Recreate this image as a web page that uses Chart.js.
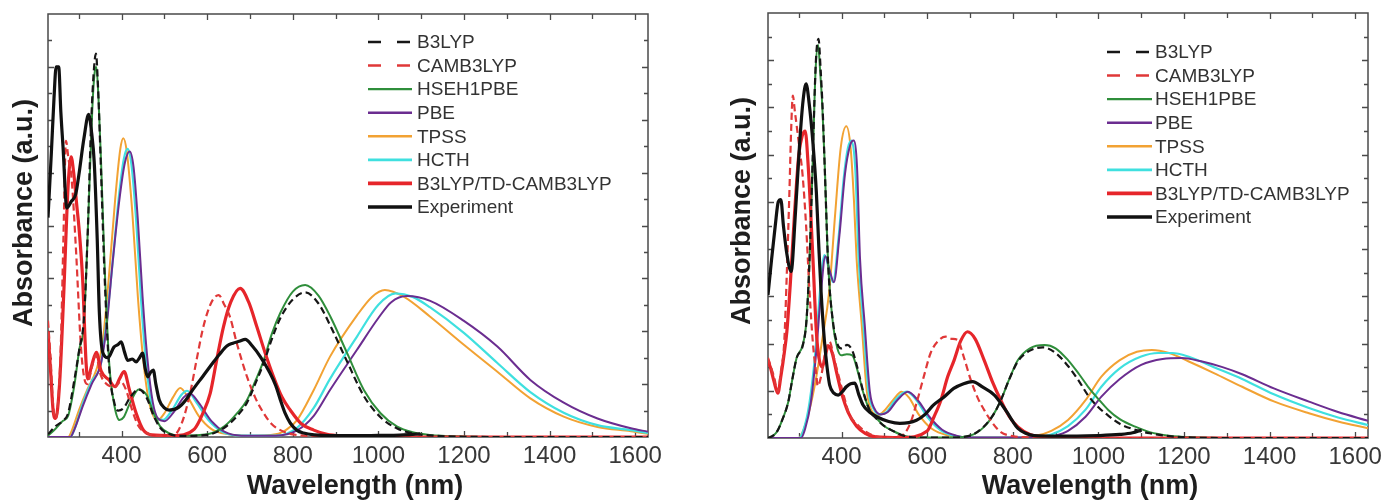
<!DOCTYPE html>
<html>
<head>
<meta charset="utf-8">
<script src="https://cdn.jsdelivr.net/npm/chart.js@4.4.1/dist/chart.umd.min.js"></script>
<style>
  html, body { margin: 0; padding: 0; background: #ffffff; }
  body { width: 1389px; height: 504px; position: relative; overflow: hidden; }
  canvas { position: absolute; top: 0; }
  #leftPanel { left: 0; width: 694px; height: 504px; }
  #rightPanel { left: 694px; width: 695px; height: 504px; }
</style>
</head>
<body>
<canvas id="leftPanel" width="694" height="504"></canvas>
<canvas id="rightPanel" width="695" height="504"></canvas>
<script>
// Series names (legend order)
const seriesNames = ['B3LYP', 'CAMB3LYP', 'HSEH1PBE', 'PBE', 'TPSS', 'HCTH', 'B3LYP/TD-CAMB3LYP', 'Experiment'];

// Axis settings
const wavelengthRange = [228, 1630];
const wavelengthTicks = [300, 400, 500, 600, 700, 800, 900, 1000, 1100, 1200, 1300, 1400, 1500, 1600];
const wavelengthTickLabels = [400, 600, 800, 1000, 1200, 1400, 1600];
const xAxisTitle = 'Wavelength (nm)';
const yAxisTitle = 'Absorbance (a.u.)';
const leftAbsMax = 16;
const rightAbsMax = 18;

// ---------- Left panel spectra: [wavelength (nm), absorbance (a.u.)] ----------
const leftB3LYP = [[228,0.1],[245,0.4],[262,0.6],[275,0.9],[290,2.2],[301,3.3],[312,4.5],[321,7.8],[328,11.5],[334,13.6],[340,14.5],[345,13.2],[352,10.0],[360,6.2],[371,2.6],[383,1.3],[392,1.0],[405,1.1],[420,1.5],[440,1.8],[458,1.5],[475,0.8],[490,0.35],[510,0.12],[540,0.04],[600,0.08],[640,0.35],[670,0.8],[693,1.3],[712,2.0],[732,2.8],[751,3.7],[771,4.5],[800,5.2],[829,5.47],[860,5.05],[888,4.2],[927,2.85],[966,1.55],[1005,0.75],[1044,0.32],[1080,0.14],[1120,0.06],[1200,0.01],[1300,0],[1630,0]];
const leftCAMB3LYP = [[228,4.4],[234,3.0],[240,1.2],[245,0.7],[250,1.0],[258,3.5],[264,7.5],[270,11.2],[276,10.5],[283,9.8],[293,7.2],[305,3.4],[313,2.2],[320,2.0],[330,2.6],[340,3.1],[350,2.4],[365,2.0],[385,1.9],[398,2.1],[410,1.8],[425,1.0],[440,0.4],[460,0.15],[480,0.05],[520,0.05],[540,0.5],[560,1.65],[575,2.9],[591,4.17],[610,5.1],[627,5.37],[640,5.0],[653,4.55],[670,3.5],[693,2.28],[712,1.5],[732,0.9],[750,0.5],[771,0.26],[800,0.1],[850,0.03],[900,0],[1630,0]];
const leftHSEH1PBE = [[228,0.05],[245,0.3],[262,0.6],[275,0.8],[290,2.0],[301,3.3],[312,4.3],[321,7.8],[327,10.5],[333,12.9],[338,13.9],[341,14.0],[346,12.8],[352,10.4],[360,6.6],[371,2.8],[383,1.2],[395,0.64],[405,0.75],[420,1.3],[440,1.8],[458,1.6],[475,0.9],[490,0.4],[510,0.15],[540,0.05],[600,0.1],[640,0.4],[670,0.9],[693,1.4],[712,2.1],[732,2.9],[751,3.9],[771,4.7],[800,5.5],[829,5.75],[860,5.35],[888,4.55],[927,3.17],[966,1.78],[1005,0.9],[1044,0.39],[1080,0.18],[1120,0.08],[1200,0.02],[1300,0],[1630,0]];
const leftPBE = [[228,0],[280,0],[290,0.3],[310,1.2],[330,2.0],[352,2.8],[365,4.2],[379,6.6],[395,9.0],[408,10.4],[419,10.8],[428,10.2],[438,8.2],[449,5.3],[460,3.0],[473,1.3],[485,0.7],[500,0.6],[520,0.9],[545,1.5],[560,1.65],[580,1.3],[610,0.6],[640,0.2],[680,0.05],[760,0.05],[810,0.25],[849,0.8],[887,1.78],[950,3.3],[1000,4.5],[1030,5.1],[1067,5.33],[1121,5.15],[1199,4.4],[1278,3.42],[1355,2.16],[1433,1.3],[1512,0.7],[1590,0.33],[1630,0.2]];
const leftTPSS = [[228,0],[275,0],[285,0.3],[300,1.0],[320,1.8],[340,2.5],[355,3.5],[370,6.0],[385,9.0],[397,10.9],[404,11.3],[412,10.8],[425,8.5],[438,5.3],[450,3.0],[462,1.5],[474,0.8],[484,0.64],[500,0.9],[520,1.5],[537,1.85],[555,1.5],[580,0.8],[610,0.3],[650,0.1],[700,0.04],[760,0.1],[787,0.3],[810,0.64],[849,1.78],[887,3.04],[950,4.6],[985,5.3],[1015,5.56],[1060,5.3],[1121,4.55],[1199,3.5],[1278,2.47],[1355,1.46],[1433,0.77],[1512,0.38],[1590,0.22],[1630,0.12]];
const leftHCTH = [[228,0],[280,0],[290,0.3],[310,1.3],[330,2.1],[352,2.8],[365,4.4],[379,6.6],[393,9.0],[405,10.5],[414,10.9],[423,10.3],[434,8.2],[445,5.3],[456,3.0],[469,1.3],[481,0.7],[497,0.65],[517,1.0],[540,1.6],[553,1.75],[575,1.3],[605,0.6],[635,0.2],[680,0.05],[760,0.05],[810,0.35],[849,1.1],[887,2.2],[950,3.8],[1000,5.0],[1040,5.43],[1080,5.3],[1121,4.9],[1199,3.95],[1278,2.8],[1355,1.7],[1433,0.92],[1512,0.45],[1590,0.26],[1630,0.15]];
const leftB3LYPTD = [[228,4.0],[234,2.5],[240,1.0],[246,0.7],[255,2.0],[265,5.5],[275,9.5],[282,10.6],[288,10.0],[295,8.8],[301,7.8],[309,5.94],[317,2.8],[321,2.2],[330,2.7],[341,3.2],[352,2.5],[371,2.15],[385,1.9],[395,2.2],[406,2.47],[418,1.8],[434,0.9],[451,0.26],[470,0.08],[520,0.05],[570,0.3],[590,0.9],[607,1.65],[622,2.9],[638,4.17],[655,5.1],[677,5.62],[697,5.1],[716,4.17],[735,3.2],[755,2.28],[775,1.5],[794,1.02],[820,0.5],[849,0.26],[880,0.1],[920,0.03],[960,0],[1630,0]];
const leftExperiment = [[228,8.3],[236,10.8],[242,12.8],[247,14.0],[253,14.0],[258,12.3],[263,11.0],[272,8.66],[282,8.9],[293,9.2],[300,9.9],[312,11.3],[323,12.2],[330,11.5],[336,10.4],[343,7.5],[348,4.7],[356,3.2],[368,3.0],[382,3.4],[392,3.5],[399,3.6],[407,3.2],[414,2.9],[425,2.95],[434,2.84],[442,3.0],[449,3.17],[455,2.6],[461,2.27],[468,2.45],[474,2.53],[480,2.0],[488,1.4],[500,1.1],[511,1.02],[534,1.13],[550,1.4],[566,1.78],[590,2.3],[613,2.8],[630,3.15],[646,3.44],[660,3.55],[675,3.62],[689,3.69],[705,3.45],[724,3.04],[747,2.41],[760,1.95],[771,1.4],[782,0.9],[794,0.53],[810,0.25],[825,0.15],[850,0.08],[900,0.05],[950,0.05],[1000,0.06],[1050,0.07],[1080,0.1],[1098,0.12]];

// ---------- Right panel spectra ----------
const rightB3LYP = [[228,0],[240,0.1],[250,0.3],[262,0.8],[275,1.5],[285,2.5],[295,3.4],[309,3.9],[318,5.0],[326,8.0],[333,12.2],[340,16.0],[346,16.9],[351,15.6],[356,13.8],[361,11.2],[369,7.2],[380,4.9],[390,4.0],[399,3.8],[413,3.94],[425,3.7],[438,2.9],[450,2.0],[465,1.2],[482,0.8],[500,0.5],[520,0.3],[545,0.1],[580,0.02],[650,0.02],[700,0.1],[733,0.5],[755,1.0],[772,1.6],[792,2.5],[812,3.25],[840,3.7],[870,3.84],[900,3.6],[929,3.05],[955,2.4],[976,1.8],[1000,1.3],[1023,0.95],[1050,0.6],[1086,0.35],[1120,0.2],[1165,0.08],[1220,0.02],[1300,0],[1630,0]];
const rightCAMB3LYP = [[228,3.4],[235,3.0],[242,2.6],[251,1.96],[258,2.8],[266,4.08],[272,7.0],[278,10.4],[282,13.0],[286,14.5],[291,13.8],[300,12.5],[309,11.1],[317,9.0],[325,6.2],[333,4.0],[341,2.67],[344,2.2],[352,2.6],[362,3.6],[372,4.08],[382,3.4],[392,2.7],[405,1.8],[418,1.0],[435,0.6],[450,0.35],[475,0.1],[500,0.02],[540,0.1],[560,0.6],[577,1.6],[592,2.6],[608,3.6],[625,4.1],[643,4.29],[657,4.2],[671,4.15],[686,3.4],[702,2.45],[718,1.7],[733,1.19],[752,0.65],[772,0.25],[800,0.08],[850,0.02],[900,0],[1630,0]];
const rightHSEH1PBE = [[228,0],[240,0.1],[250,0.3],[262,0.8],[275,1.5],[285,2.5],[295,3.4],[309,3.94],[318,5.0],[326,8.0],[333,12.0],[339,15.5],[345,16.65],[350,15.5],[355,14.0],[360,11.85],[368,7.6],[380,4.8],[390,3.8],[399,3.5],[412,3.55],[425,3.5],[438,2.8],[450,1.96],[465,1.2],[482,0.83],[500,0.5],[520,0.3],[545,0.1],[580,0.02],[650,0.02],[700,0.1],[733,0.47],[755,1.0],[772,1.6],[792,2.5],[812,3.3],[840,3.8],[874,3.94],[900,3.8],[929,3.3],[955,2.7],[976,2.17],[1000,1.65],[1023,1.19],[1050,0.8],[1086,0.48],[1120,0.25],[1165,0.1],[1220,0.03],[1300,0],[1630,0]];
const rightPBE = [[228,0],[305,0],[315,0.4],[328,1.5],[340,3.5],[352,6.2],[362,7.7],[372,7.1],[382,6.6],[395,8.6],[408,11.2],[420,12.4],[428,12.6],[436,11.5],[443,7.6],[454,4.8],[466,1.96],[478,1.2],[492,1.0],[508,1.1],[530,1.6],[555,1.96],[578,1.6],[605,0.9],[635,0.35],[668,0.1],[700,0.02],[870,0.02],[900,0.1],[929,0.3],[970,0.9],[1007,1.75],[1050,2.5],[1100,3.1],[1150,3.35],[1195,3.39],[1240,3.25],[1290,3.0],[1336,2.7],[1410,2.1],[1492,1.54],[1560,1.1],[1630,0.73]];
const rightTPSS = [[228,0],[300,0],[310,0.3],[325,1.2],[340,2.5],[355,4.2],[371,6.2],[385,9.5],[398,12.3],[411,13.2],[421,12.3],[429,10.0],[435,7.6],[447,4.8],[459,1.96],[472,1.1],[485,0.97],[502,1.2],[520,1.6],[540,1.96],[558,1.7],[580,1.0],[610,0.4],[650,0.1],[700,0.02],[800,0.02],[850,0.08],[890,0.3],[929,0.76],[970,1.6],[1007,2.6],[1050,3.3],[1090,3.65],[1125,3.73],[1165,3.6],[1210,3.25],[1270,2.75],[1336,2.17],[1410,1.55],[1492,1.05],[1560,0.7],[1630,0.41]];
const rightHCTH = [[228,0],[300,0],[312,0.4],[325,1.5],[338,3.5],[350,6.3],[360,7.75],[370,7.2],[380,6.6],[393,8.5],[405,11.0],[415,12.3],[423,12.6],[432,11.4],[440,7.6],[451,4.8],[463,1.96],[476,1.2],[490,1.0],[505,1.1],[525,1.6],[552,1.96],[575,1.6],[600,0.9],[630,0.35],[662,0.1],[700,0.02],[850,0.02],[890,0.15],[929,0.5],[970,1.2],[1007,2.17],[1050,2.95],[1100,3.45],[1140,3.6],[1172,3.6],[1210,3.45],[1270,3.0],[1336,2.5],[1410,1.85],[1492,1.27],[1560,0.87],[1630,0.55]];
const rightB3LYPTD = [[228,3.3],[235,2.9],[242,2.4],[251,1.9],[258,2.6],[266,3.6],[272,4.5],[280,6.5],[290,9.5],[300,12.0],[308,12.8],[315,13.0],[322,11.5],[333,7.6],[341,4.5],[347,3.4],[355,3.0],[362,3.5],[369,3.9],[378,3.6],[388,2.8],[400,1.9],[415,1.1],[435,0.5],[455,0.2],[480,0.05],[540,0.02],[600,0.3],[616,0.9],[632,1.6],[648,2.6],[663,3.3],[678,4.1],[694,4.5],[712,4.2],[733,3.3],[752,2.4],[772,1.6],[792,0.9],[812,0.47],[840,0.15],[870,0.05],[900,0.02],[950,0],[1630,0]];
const rightExperiment = [[228,6.06],[236,7.5],[245,9.0],[252,10.0],[258,10.1],[264,9.0],[272,7.8],[282,7.05],[292,9.5],[302,12.5],[310,14.3],[317,15.0],[324,14.2],[333,12.5],[341,10.4],[347,8.0],[352,6.2],[360,4.08],[366,3.0],[372,2.25],[382,1.9],[392,1.82],[401,1.95],[411,2.17],[421,2.3],[431,2.32],[440,1.85],[450,1.4],[465,1.1],[482,0.9],[510,0.7],[536,0.62],[575,0.75],[595,1.0],[615,1.4],[640,1.75],[662,2.1],[685,2.3],[706,2.39],[730,2.15],[757,1.82],[775,1.4],[788,1.05],[800,0.7],[812,0.41],[830,0.2],[850,0.1],[900,0.08],[950,0.08],[1000,0.1],[1050,0.15],[1080,0.22],[1101,0.34]];

// Line styles per series (legend order)
const seriesStyles = [
  { color: '#161616', width: 2.2, dash: [7, 4], legendDash: [13, 16], order: 0 },
  { color: '#e03838', width: 2.2, dash: [7, 4], legendDash: [13, 16], order: 2 },
  { color: '#2f8e3b', width: 2.0, dash: [], legendDash: [], order: 4 },
  { color: '#6b2d90', width: 2.0, dash: [], legendDash: [], order: 5 },
  { color: '#f2a233', width: 2.0, dash: [], legendDash: [], order: 7 },
  { color: '#3fe0df', width: 2.2, dash: [], legendDash: [], order: 6 },
  { color: '#e6252a', width: 3.2, dash: [], legendDash: [], order: 3 },
  { color: '#111111', width: 3.2, dash: [], legendDash: [], order: 1 }
];

const toPoints = arr => arr.map(([x, y]) => ({ x, y }));
const FONT = '"Liberation Sans", Arial, sans-serif';

// Frame and inward tick marks on all four sides
const frameTicks = {
  id: 'frameTicks',
  beforeDatasetsDraw(chart) {
    const { ctx, chartArea: a, scales } = chart;
    ctx.save();
    ctx.strokeStyle = '#4a4a4a';
    ctx.lineWidth = 1.5;
    ctx.strokeRect(a.left, a.top, a.right - a.left, a.bottom - a.top);
    ctx.lineWidth = 1.3;
    ctx.beginPath();
    scales.x.ticks.forEach(t => {
      const px = Math.round(scales.x.getPixelForValue(t.value)) + 0.5;
      const len = t.value % 200 === 0 ? 6 : 5;
      ctx.moveTo(px, a.bottom); ctx.lineTo(px, a.bottom - len);
      ctx.moveTo(px, a.top); ctx.lineTo(px, a.top + len);
    });
    scales.y.ticks.forEach(t => {
      if (t.value <= scales.y.min || t.value >= scales.y.max) return;
      const py = Math.round(scales.y.getPixelForValue(t.value)) + 0.5;
      const len = t.value % 2 === 0 ? 6 : 4;
      ctx.moveTo(a.left, py); ctx.lineTo(a.left + len, py);
      ctx.moveTo(a.right, py); ctx.lineTo(a.right - len, py);
    });
    ctx.stroke();
    ctx.restore();
  }
};

// In-plot legend listing every dataset with its line sample
const sampleLegend = {
  id: 'sampleLegend',
  afterDatasetsDraw(chart, args, opts) {
    const { ctx } = chart;
    ctx.save();
    ctx.font = '19px ' + FONT;
    ctx.textBaseline = 'middle';
    ctx.textAlign = 'left';
    chart.data.datasets.forEach((ds, i) => {
      const y = opts.y0 + i * opts.dy;
      ctx.strokeStyle = ds.borderColor;
      ctx.lineWidth = ds.borderWidth + 0.4;
      ctx.setLineDash(ds.legendDash || []);
      ctx.beginPath();
      ctx.moveTo(opts.x0, y);
      ctx.lineTo(opts.x1, y);
      ctx.stroke();
      ctx.setLineDash([]);
      ctx.fillStyle = '#333333';
      ctx.fillText(ds.label, opts.tx, y + 1);
    });
    ctx.restore();
  }
};

// Bold axis titles at fixed spots in the margins
const axisTitles = {
  id: 'axisTitles',
  afterDraw(chart, args, opts) {
    const { ctx } = chart;
    ctx.save();
    ctx.font = 'bold 27px ' + FONT;
    ctx.fillStyle = '#1e1e1e';
    ctx.textAlign = 'center';
    ctx.textBaseline = 'middle';
    ctx.fillText(xAxisTitle, opts.x[0], opts.x[1]);
    ctx.translate(opts.y[0], opts.y[1]);
    ctx.rotate(-Math.PI / 2);
    ctx.fillText(yAxisTitle, 0, 0);
    ctx.restore();
  }
};

function makePanel(canvasId, data, yMax, geom) {
  const datasets = seriesNames.map((name, i) => ({
    label: name,
    data: toPoints(data[i]),
    borderColor: seriesStyles[i].color,
    borderWidth: seriesStyles[i].width,
    borderDash: seriesStyles[i].dash,
    legendDash: seriesStyles[i].legendDash,
    order: seriesStyles[i].order,
    pointRadius: 0,
    fill: false,
    cubicInterpolationMode: 'monotone'
  }));
  return new Chart(document.getElementById(canvasId), {
    type: 'line',
    data: { datasets },
    options: {
      responsive: false,
      animation: false,
      devicePixelRatio: 1,
      layout: { padding: { left: 0, top: geom.padTop, right: geom.padRight, bottom: 0 } },
      plugins: {
        legend: { display: false },
        tooltip: { enabled: false },
        sampleLegend: geom.legend,
        axisTitles: geom.titles
      },
      scales: {
        x: {
          type: 'linear',
          min: wavelengthRange[0],
          max: wavelengthRange[1],
          grid: { display: false, drawTicks: false },
          border: { display: false },
          afterBuildTicks: s => { s.ticks = wavelengthTicks.map(v => ({ value: v })); },
          ticks: {
            autoSkip: false,
            maxRotation: 0,
            padding: 5,
            color: '#383838',
            font: { family: FONT, size: 24 },
            callback: v => wavelengthTickLabels.includes(v) ? String(v) : ''
          },
          title: { display: false },
          afterFit: s => { s.height = geom.xHeight; }
        },
        y: {
          type: 'linear',
          min: 0,
          max: yMax,
          grid: { display: false, drawTicks: false },
          border: { display: false },
          ticks: { stepSize: 1, display: false },
          title: { display: false },
          afterFit: s => { s.width = geom.yWidth; }
        }
      }
    },
    plugins: [frameTicks, sampleLegend, axisTitles]
  });
}

makePanel('leftPanel',
  [leftB3LYP, leftCAMB3LYP, leftHSEH1PBE, leftPBE, leftTPSS, leftHCTH, leftB3LYPTD, leftExperiment],
  leftAbsMax,
  { padTop: 14, padRight: 46, xHeight: 67, yWidth: 48,
    titles: { x: [355, 487], y: [25, 213] },
    legend: { x0: 368, x1: 412, tx: 417, y0: 42, dy: 23.57 } });

makePanel('rightPanel',
  [rightB3LYP, rightCAMB3LYP, rightHSEH1PBE, rightPBE, rightTPSS, rightHCTH, rightB3LYPTD, rightExperiment],
  rightAbsMax,
  { padTop: 13, padRight: 21, xHeight: 66, yWidth: 74,
    titles: { x: [396, 487], y: [49, 211] },
    legend: { x0: 413, x1: 458, tx: 461, y0: 52, dy: 23.57 } });
</script>
</body>
</html>
